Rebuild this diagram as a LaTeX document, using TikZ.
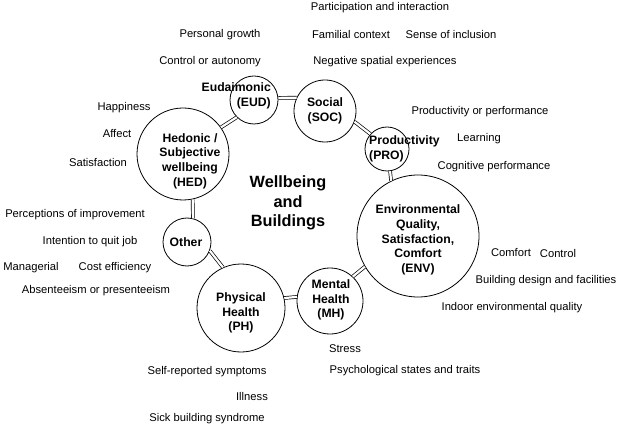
\documentclass[tikz,border=0pt]{standalone}
\usepackage{fontspec}
\setmainfont{Liberation Sans}
\begin{document}
\begin{tikzpicture}[x=1pt,y=-1pt,
  circ/.style={circle,draw,line width=0.8pt,inner sep=0pt},
  lab/.style={inner sep=0pt,font=\fontsize{11.2}{13}\selectfont},
  cl/.style={inner sep=0pt,font=\fontsize{12.2}{14.7}\selectfont\bfseries,align=center},
  link/.style={double,double distance=2.2pt,line width=0.7pt}]
\useasboundingbox (0,0) rectangle (620,427);
% circles
\node[circ,minimum size=48pt] (eud) at (254,100) {};
\node[circ,minimum size=62pt] (soc) at (325,111) {};
\node[circ,minimum size=44pt] (pro) at (387,149) {};
\node[circ,minimum size=122pt] (env) at (418,236) {};
\node[circ,minimum size=66pt] (mh) at (330,301) {};
\node[circ,minimum size=88pt] (ph) at (241,308) {};
\node[circ,minimum size=48pt] (oth) at (187,242) {};
\node[circ,minimum size=92pt] (hed) at (183,154) {};
% circle texts
\node[cl,align=right,anchor=east] (teud) at (271,96) {Eudaimonic\\(EUD)};
\node[cl] (tsoc) at (325,111) {Social\\(SOC)};
\node[cl,align=left,anchor=west] (tpro) at (369,149) {Productivity\\(PRO)};
\node[cl] (tenv) at (418,240) {Environmental\\Quality,\\Satisfaction,\\Comfort\\(ENV)};
\node[cl] (tmh) at (331,300) {Mental\\Health\\(MH)};
\node[cl] (tph) at (241,313) {Physical\\Health\\(PH)};
\node[cl] (thed) at (190,161) {Hedonic /\\Subjective\\wellbeing\\(HED)};
\node[cl] (toth) at (186,242) {Other};
\node[inner sep=0pt,font=\fontsize{16.3}{19.5}\selectfont\bfseries,align=center] (title) at (288,203) {Wellbeing\\and\\Buildings};
% connectors
\draw[link] (hed.35) -- (eud.225);
\draw[link] (eud.5) -- (soc.155);
\draw[link] (soc.-20) -- (pro.138);
\draw[link] (pro.-82) -- (env.116);
\draw[link] (env.210) -- (mh.47);
\draw[link] (mh.173) -- (ph.13);
\draw[link] (ph.114) -- (oth.-21);
\draw[link] (oth.76) -- (hed.-78);
% labels
\node[lab] (l1) at (380,8) {Participation and interaction};
\node[lab] (l2) at (220,35) {Personal growth};
\node[lab] (l3) at (351,35) {Familial context};
\node[lab] (l4) at (451,35) {Sense of inclusion};
\node[lab] (l5) at (210,62) {Control or autonomy};
\node[lab] (l6) at (385,62) {Negative spatial experiences};
\node[lab] (l7) at (480,112) {Productivity or performance};
\node[lab] (l8) at (479,139) {Learning};
\node[lab] (l9) at (494,167) {Cognitive performance};
\node[lab] (l10) at (511,253) {Comfort};
\node[lab] (l11) at (558,253) {Control};
\node[lab] (l12) at (546,281) {Building design and facilities};
\node[lab] (l13) at (512,308) {Indoor environmental quality};
\node[lab] (l14) at (345,349) {Stress};
\node[lab] (l15) at (405,371) {Psychological states and traits};
\node[lab] (l16) at (207,372) {Self-reported symptoms};
\node[lab] (l17) at (252,396) {Illness};
\node[lab] (l18) at (207,419) {Sick building syndrome};
\node[lab] (l19) at (124,108) {Happiness};
\node[lab] (l20) at (117,134) {Affect};
\node[lab] (l21) at (98,162) {Satisfaction};
\node[lab] (l22) at (75,215) {Perceptions of improvement};
\node[lab] (l23) at (90,242) {Intention to quit job};
\node[lab] (l24) at (31,268) {Managerial};
\node[lab] (l25) at (115,268) {Cost efficiency};
\node[lab] (l26) at (96,291) {Absenteeism or presenteeism};
\end{tikzpicture}
\end{document}
